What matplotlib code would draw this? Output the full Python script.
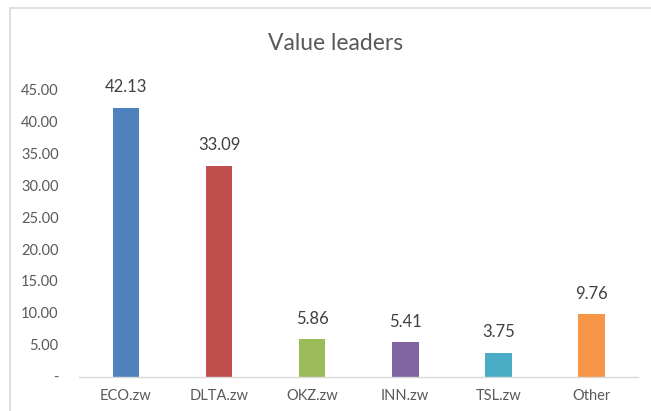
import matplotlib.pyplot as plt
from matplotlib.patches import Rectangle
from matplotlib.ticker import FuncFormatter

categories = ['ECO.zw', 'DLTA.zw', 'OKZ.zw', 'INN.zw', 'TSL.zw', 'Other']
values = [42.13, 33.09, 5.86, 5.41, 3.75, 9.76]
colors = ['#4F81BD', '#C0504D', '#9BBB59', '#8064A2', '#4BACC6', '#F79646']
y_ticks = [0, 5, 10, 15, 20, 25, 30, 35, 40, 45]

plt.rcParams['font.family'] = ['Lato', 'DejaVu Sans']

fig = plt.figure(figsize=(6.51, 4.11), dpi=100)
# light chart frame
fig.patches.append(Rectangle((10 / 651, -0.1), 1.2, 1 - 8 / 411 + 0.1,
                             transform=fig.transFigure, fill=False,
                             edgecolor='#d9d9d9', linewidth=1.2))

ax = fig.add_axes([0.122, 0.0835, 0.858, 0.6985])
x = range(len(categories))
bars = ax.bar(x, values, width=0.285, color=colors)

for i, v in enumerate(values):
    ax.annotate(f'{v:.2f}', (i, v), xytext=(0, 9), textcoords='offset points',
                ha='center', va='bottom', fontsize=12, color='#404040')

ax.set_xlim(-0.5, len(categories) - 0.5)
ax.set_ylim(0, 45)
ax.set_yticks(y_ticks)
ax.yaxis.set_major_formatter(FuncFormatter(lambda v, p: '-' if v == 0 else f'{v:.2f}'))
ax.set_xticks(list(x))
ax.set_xticklabels(categories)
ax.tick_params(axis='both', length=0, colors='#595959', labelsize=10.5)
ax.tick_params(axis='y', pad=15)
ax.tick_params(axis='x', pad=9)

for s in ['top', 'right', 'left']:
    ax.spines[s].set_visible(False)
ax.spines['bottom'].set_color('#d9d9d9')
ax.spines['bottom'].set_linewidth(1)

fig.text(336 / 651, 1 - 44 / 411, 'Value leaders', ha='center', va='center',
         fontsize=16.5, color='#595959')

fig.savefig('out.png', dpi=100)
